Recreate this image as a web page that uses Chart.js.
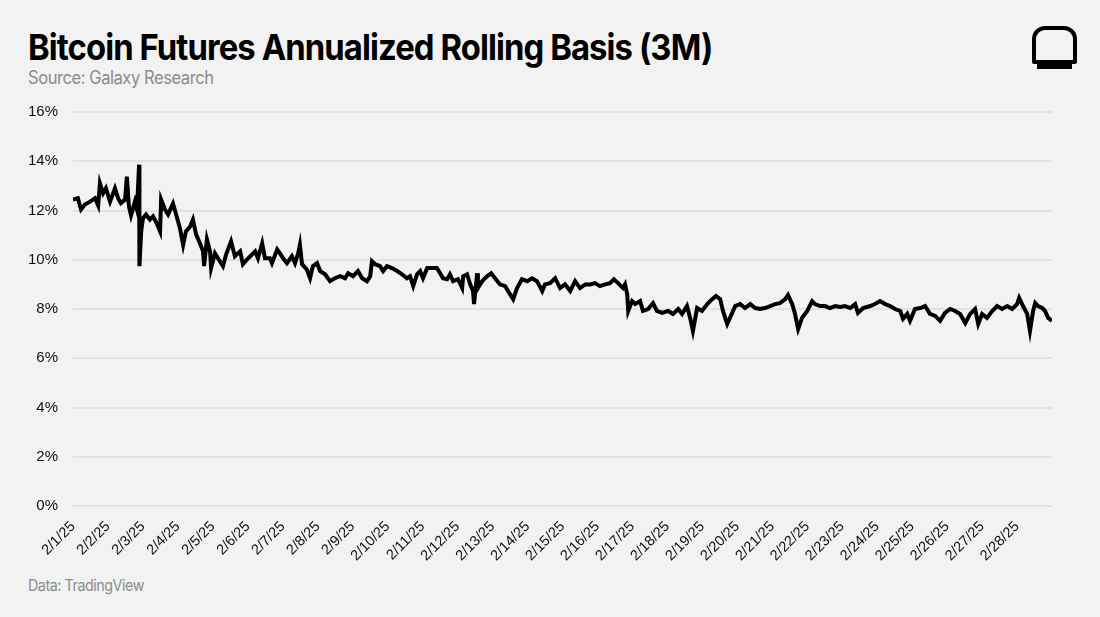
<!DOCTYPE html>
<html>
<head>
<meta charset="utf-8">
<script src="https://cdn.jsdelivr.net/npm/chart.js@4.4.1/dist/chart.umd.min.js"></script>
<style>
  html, body { margin: 0; padding: 0; background: #f2f2f2; }
  body { width: 1100px; height: 617px; position: relative; overflow: hidden; font-family: Inter, "Liberation Sans", sans-serif; }
  .fit { position: absolute; left: 28px; white-space: nowrap; transform-origin: 0 0; }
  #title { top: 25px; font-size: 36px; font-weight: 700; color: #000; letter-spacing: -1px; }
  #source { top: 67px; font-size: 18px; color: #8c8c8c; letter-spacing: -0.5px; }
  #footer { top: 575px; font-size: 16px; color: #8c8c8c; letter-spacing: -0.5px; }
  #logoBox { position: absolute; left: 1032px; top: 26px; width: 37px; height: 30px; border: 4px solid #000; border-radius: 13px 13px 2px 2px; }
  #logoBar { position: absolute; left: 1037px; top: 63px; width: 35px; height: 6px; background: #000; }
  #wrap { position: absolute; left: 0; top: 88px; width: 1100px; height: 482px; }
</style>
</head>
<body>
<div id="title" class="fit" data-w="684">Bitcoin Futures Annualized Rolling Basis (3M)</div>
<div id="source" class="fit" data-w="186">Source: Galaxy Research</div>
<div id="footer" class="fit" data-w="116">Data: TradingView</div>
<div id="logoBox"></div>
<div id="logoBar"></div>
<div id="wrap"><canvas id="chart"></canvas></div>
<script>
// days since 2/1/25 00:00
const dayOffsets = [
  0.00,0.14,0.23,0.34,0.49,0.63,0.72,0.77,0.86,0.94,1.06,1.20,1.29,1.37,1.49,1.54,1.60,1.66,1.77,1.83,
  1.89,1.90,1.95,2.00,2.09,2.20,2.29,2.37,2.49,2.52,2.63,2.72,2.86,2.95,3.06,3.15,3.23,3.35,3.43,3.52,
  3.63,3.72,3.75,3.83,3.92,3.95,4.06,4.20,4.29,4.38,4.52,4.63,4.78,4.86,5.01,5.21,5.29,5.41,5.49,
  5.63,5.69,5.84,5.92,6.01,6.12,6.26,6.35,6.44,6.49,6.55,6.69,6.78,6.86,6.98,7.07,7.21,7.35,7.49,7.64,
  7.78,7.87,8.01,8.15,8.27,8.41,8.50,8.55,8.64,8.78,8.87,8.98,9.12,9.27,9.41,9.55,9.64,9.73,9.84,9.93,
  10.01,10.13,10.27,10.41,10.50,10.58,10.70,10.78,10.87,11.01,11.13,
  11.16,11.27,11.36,11.44,11.47,11.56,11.58,11.70,11.84,11.96,12.07,12.21,12.36,12.44,12.59,12.70,12.84,12.99,13.13,13.27,
  13.42,13.50,13.64,13.79,13.93,14.07,14.22,14.36,14.50,14.65,14.79,14.93,15.07,15.22,15.36,15.47,15.59,15.73,15.79,15.85,
  15.88,15.99,16.08,16.22,16.30,16.45,16.59,16.70,
  16.85,17.02,17.16,17.31,17.42,17.56,17.65,17.73,17.85,17.99,18.14,18.28,18.39,18.51,18.59,18.71,18.79,18.94,19.08,19.22,
  19.37,19.51,19.65,19.79,19.94,20.08,20.22,20.37,20.45,20.57,20.65,20.74,20.85,21.00,21.14,21.22,21.37,21.51,21.65,21.80,
  21.94,22.08,22.23,
  22.37,22.45,22.60,22.80,22.94,23.08,23.23,23.37,23.51,23.66,23.74,23.86,23.94,24.08,24.23,24.37,24.51,24.66,24.80,24.94,
  25.09,25.23,25.37,25.52,25.66,25.80,25.89,26.00,26.14,26.29,26.43,26.57,26.72,26.86,27.00,27.06,27.17,27.29,27.37,27.46,
  27.52,27.60,27.72,27.80,27.89,28.00
];

// annualized rolling basis, %
const basisPct = [
  12.44,12.5,12.04,12.24,12.36,12.5,12.2,13.1,12.7,12.9,12.36,12.9,12.5,12.3,12.44,13.37,12.16,11.8,12.36,12.04,
  13.86,9.74,11.15,11.68,11.84,11.63,11.76,11.55,11.15,12.44,12.04,11.84,12.28,11.84,11.27,10.6,11.15,11.35,11.63,11.03,
  10.67,10.34,9.74,10.83,10.34,9.66,10.26,9.94,9.74,10.22,10.75,10.14,10.34,9.82,10.06,10.34,10.06,10.67,10.06,
  10.06,9.86,10.42,10.26,10.06,9.86,10.14,9.86,10.26,10.61,9.82,9.6,9.25,9.74,9.86,9.54,9.41,9.13,9.25,9.33,
  9.25,9.45,9.33,9.54,9.25,9.13,9.33,9.94,9.82,9.74,9.54,9.74,9.66,9.54,9.41,9.25,9.33,8.93,9.41,9.54,
  9.25,9.66,9.66,9.66,9.45,9.25,9.21,9.41,9.13,9.21,8.85,
  9.33,9.41,9.0,8.73,8.2,9.45,8.85,9.13,9.33,9.45,9.25,9.0,8.93,8.73,8.4,8.85,9.21,9.13,9.25,9.13,
  8.73,9.0,9.05,9.25,8.85,9.0,8.73,9.13,8.85,9.0,9.0,9.05,8.93,9.0,9.05,9.21,9.05,8.85,9.0,8.6,
  7.92,8.32,8.2,8.32,7.92,8.0,8.24,7.92,
  7.84,7.92,7.8,8.0,7.8,8.12,7.64,7.11,8.04,7.92,8.2,8.4,8.53,8.4,7.92,7.39,7.64,8.12,8.2,8.04,
  8.2,8.04,8.0,8.04,8.12,8.2,8.24,8.4,8.57,8.2,7.8,7.19,7.64,7.92,8.32,8.2,8.12,8.12,8.04,8.12,
  8.08,8.12,8.04,
  8.2,7.84,8.04,8.12,8.2,8.32,8.2,8.12,8.0,7.92,7.6,7.8,7.52,8.0,8.04,8.12,7.8,7.72,7.52,7.84,
  8.0,7.92,7.8,7.43,7.8,8.0,7.39,7.8,7.64,7.92,8.12,8.0,8.12,8.0,8.2,8.45,8.12,7.8,7.11,7.92,
  8.24,8.12,8.04,7.92,7.64,7.52
];

const dateLabels = [
  '2/1/25','2/2/25','2/3/25','2/4/25','2/5/25','2/6/25','2/7/25','2/8/25','2/9/25','2/10/25',
  '2/11/25','2/12/25','2/13/25','2/14/25','2/15/25','2/16/25','2/17/25','2/18/25','2/19/25','2/20/25',
  '2/21/25','2/22/25','2/23/25','2/24/25','2/25/25','2/26/25','2/27/25','2/28/25'
];

const yMin = 0, yMax = 16, yStep = 2;

// squeeze the header texts to the width they take in the reference
document.querySelectorAll('.fit').forEach(el => {
  const w = parseFloat(el.dataset.w);
  el.style.transform = 'scaleX(' + (w / el.offsetWidth) + ')';
});

const points = dayOffsets.map((d, i) => ({ x: d, y: basisPct[i] }));

const tickFont = { family: "'Liberation Sans', Arial, sans-serif", size: 15 };

new Chart(document.getElementById('chart'), {
  type: 'line',
  data: {
    datasets: [{
      data: points,
      borderColor: '#000',
      borderWidth: 4,
      borderJoinStyle: 'miter',
      pointRadius: 0,
      tension: 0,
      fill: false
    }]
  },
  options: {
    responsive: true,
    maintainAspectRatio: false,
    animation: false,
    layout: { padding: { left: 0, right: 48, top: 10, bottom: 0 } },
    plugins: { legend: { display: false }, tooltip: { enabled: false } },
    scales: {
      x: {
        type: 'linear',
        min: 0,
        max: 28,
        grid: { display: false },
        border: { display: false },
        ticks: {
          stepSize: 1,
          autoSkip: false,
          maxRotation: 45,
          minRotation: 45,
          padding: 4,
          color: '#111',
          font: { family: tickFont.family, size: 14.5 },
          callback: v => dateLabels[v] || ''
        },
        afterFit: axis => { axis.height = 64; }
      },
      y: {
        min: yMin,
        max: yMax,
        grid: { color: '#e2e2e2', lineWidth: 2, drawTicks: false },
        border: { display: false },
        ticks: {
          stepSize: yStep,
          padding: 15,
          color: '#111',
          font: tickFont,
          callback: v => v + '%'
        },
        afterFit: axis => { axis.width = 73; }
      }
    }
  }
});
</script>
</body>
</html>
